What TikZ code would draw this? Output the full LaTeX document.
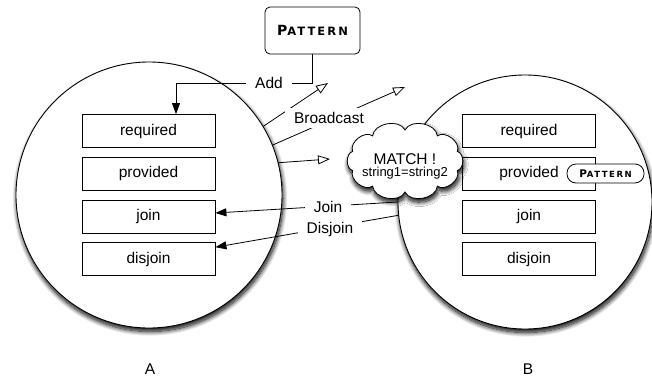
\documentclass[tikz,border=0pt]{standalone}
\usepackage{fontspec}
\setmainfont{Liberation Sans}
\newfontfamily\copper[LetterSpace=18]{DejaVu Sans}
\usetikzlibrary{arrows.meta,shadows.blur}
% small-capital style word set in a wide bold sans
\newcommand{\patword}[2]{{\copper\bfseries\fontsize{#1}{#1}\selectfont P\fontsize{#2}{#2}\selectfont ATTERN}}
\begin{document}
\begin{tikzpicture}[x=1pt,y=-1pt,
  softshadow/.style={blur shadow={shadow xshift=1pt, shadow yshift=-3.5pt,
      shadow blur radius=4.5pt, shadow blur steps=14, shadow opacity=100}},
  peer/.style={circle, draw, line width=0.9pt, fill=white, inner sep=0pt, softshadow},
  slot/.style={draw, line width=0.8pt, fill=white, minimum width=133pt,
      minimum height=33pt, inner sep=0pt, font=\fontsize{15.5}{17}\selectfont},
  msg/.style={fill=white, inner xsep=9pt, inner ysep=4pt, font=\fontsize{15.5}{17}\selectfont},
  peername/.style={font=\fontsize{15.5}{17}\selectfont},
  conn/.style={line width=0.8pt},
  solidtip/.style={conn, -{Triangle[length=11pt,width=8pt]}},
  opentip/.style={conn, -{Triangle[open,length=12pt,width=9pt,fill=white]}}
]
\useasboundingbox (0,0) rectangle (652,378);

% the two peers
\node[peer, minimum size=266pt] (A) at (149,195) {};
\node[peer, minimum size=254pt] (B) at (525,202) {};

% tables of peer A
\node[slot] (reqA)  at (148.5,131)   {required};
\node[slot] (provA) at (148.5,173.5) {provided};
\node[slot] (joinA) at (148.5,216.5) {join};
\node[slot] (disA)  at (148.5,259)   {disjoin};

% tables of peer B
\node[slot] (reqB)  at (529,131)   {required};
\node[slot] (provB) at (529,173.5) {provided};
\node[slot] (joinB) at (529,216.5) {join};
\node[slot] (disB)  at (529,259)   {disjoin};

% pattern stored in B
\node[draw, line width=0.8pt, fill=white, rounded corners=9pt, minimum width=77pt,
      minimum height=19pt, inner sep=0pt] (patB) at (605.5,173.5) {\patword{10.5}{8.5}};

% pattern being added
\node[draw, line width=0.8pt, fill=white, rounded corners=5pt, minimum width=95pt,
      minimum height=47pt, inner sep=0pt] (pat) at (312.5,30.5) {\patword{14}{11.5}};

% Add
\coordinate (addturn) at (176,83);
\draw[conn] (pat.south) |- (addturn);
\draw[solidtip] (addturn) -- (reqA.north -| addturn);
\node[msg] (addlbl) at (269,83) {Add};

% Broadcast
\coordinate (bc1) at (328,83);
\coordinate (bc2) at (405,87);
\coordinate (bc3) at (330,159);
\draw[opentip] (A.31.8) -- (bc1);
\draw[opentip] (A.22.9) -- (bc2);
\draw[opentip] (A.14.9) -- (bc3);
\node[msg] (bclbl) at (329,118) {Broadcast};

% Join / Disjoin
\draw[solidtip] (B.180.4) -- (joinA.3);
\draw[solidtip] (B.186.8) -- (disA.10);
\node[msg] (joinlbl) at (328,207) {Join};
\node[msg] (dislbl) at (330,229) {Disjoin};

% match: a cloud of puffs around an ellipse
\foreach \i in {0,...,10}
  \coordinate (cp\i) at ({405+55*cos(\i*36+18)},{161+31*sin(\i*36+18)});
\draw[line width=0.8pt, fill=white, softshadow]
  (cp0) to[bend left=75] (cp1) to[bend left=75] (cp2) to[bend left=75] (cp3)
  to[bend left=75] (cp4) to[bend left=75] (cp5) to[bend left=75] (cp6)
  to[bend left=75] (cp7) to[bend left=75] (cp8) to[bend left=75] (cp9)
  to[bend left=75] (cp10) -- cycle;
\node[align=center, inner sep=0pt] (match) at (405,166)
  {\fontsize{15.5}{16}\selectfont MATCH !\\[0pt]\fontsize{13}{15}\selectfont string1=string2};

% peer names
\node[peername] (nameA) at (150,369) {A};
\node[peername] (nameB) at (528,369) {B};
\end{tikzpicture}
\end{document}
